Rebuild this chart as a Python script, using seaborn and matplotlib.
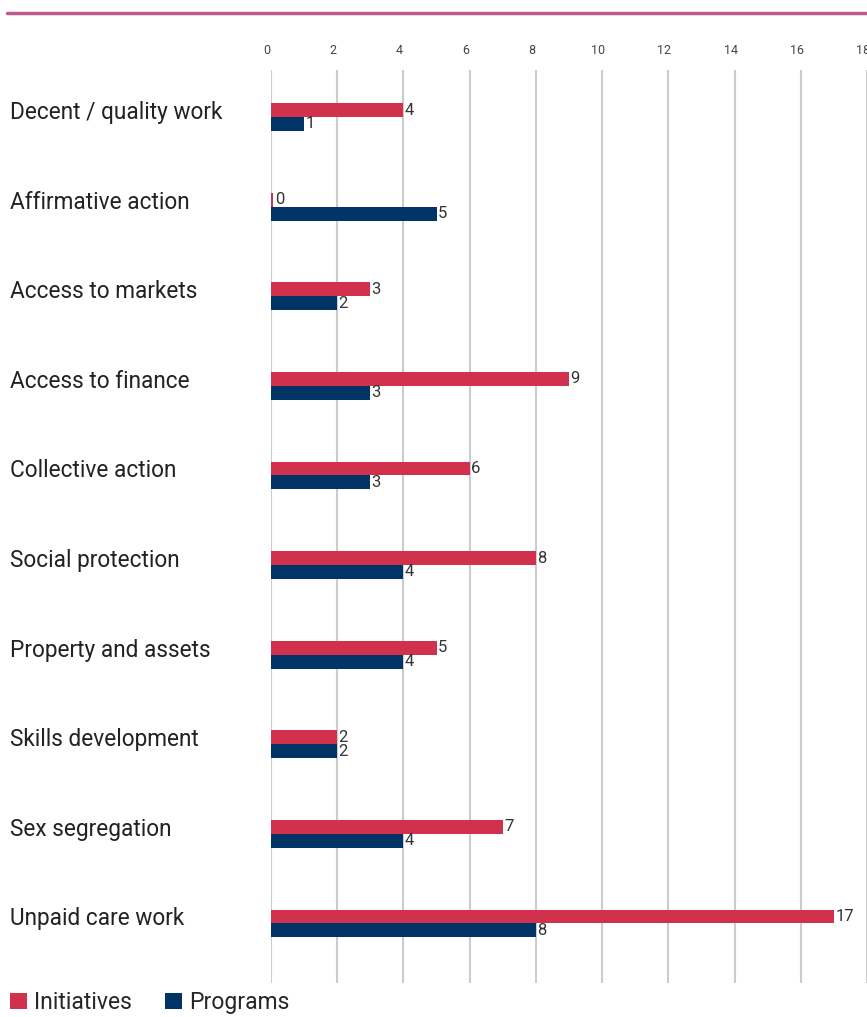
import matplotlib
matplotlib.use("Agg")
import matplotlib.pyplot as plt
import matplotlib.transforms as mtransforms
from matplotlib.lines import Line2D
import numpy as np
import pandas as pd
import seaborn as sns


TOPICS = [
    "Decent / quality work",
    "Affirmative action",
    "Access to markets",
    "Access to finance",
    "Collective action",
    "Social protection",
    "Property and assets",
    "Skills development",
    "Sex segregation",
    "Unpaid care work",
]
INITIATIVES = [4, 0, 3, 9, 6, 8, 5, 2, 7, 17]
PROGRAMS = [1, 5, 2, 3, 3, 4, 4, 2, 4, 8]
SERIES = ["Initiatives", "Programs"]
COLORS = ["#D2314D", "#003466"]
X_TICKS = [0, 2, 4, 6, 8, 10, 12, 14, 16, 18]


def build_frame():
    rows = []
    for name, values in zip(SERIES, [INITIATIVES, PROGRAMS]):
        for topic, v in zip(TOPICS, values):
            # tiny sliver so that zero still shows as in the original
            rows.append({"topic": topic, "series": name, "value": v, "shown": max(v, 0.07)})
    return pd.DataFrame(rows)


def main():
    sns.set_style("white")
    plt.rcParams["font.family"] = ["Roboto", "DejaVu Sans"]

    W, H = 867, 1017
    fig = plt.figure(figsize=(W / 100, H / 100), dpi=100)
    ax_top, ax_bot = 70, 983
    ax = fig.add_axes([271 / W, 1 - ax_bot / H, 1 - 271 / W, (ax_bot - ax_top) / H])

    df = build_frame()
    sns.barplot(
        data=df, y="topic", x="shown", hue="series", order=TOPICS, hue_order=SERIES,
        palette=COLORS, orient="h", width=0.31, errorbar=None, saturation=1,
        linewidth=0, ax=ax, legend=True,
    )

    for cont, values, dy in zip(ax.containers, [INITIATIVES, PROGRAMS], [-0.04, 0.0]):
        texts = ax.bar_label(cont, labels=[str(v) for v in values], padding=1,
                             fontsize=12, color="#333333")
        shift = mtransforms.ScaledTranslation(0, -dy, fig.dpi_scale_trans)
        for t in texts:
            t.set_transform(t.get_transform() + shift)

    ax.set_xlim(0, 18)
    ax.set_ylim(9.665, -0.525)
    ax.set_xticks(X_TICKS)
    ax.xaxis.tick_top()
    ax.tick_params(axis="x", length=0, pad=9, labelsize=9, labelcolor="#444444")
    offset = mtransforms.ScaledTranslation(-0.04, 0, fig.dpi_scale_trans)
    for lbl in ax.get_xticklabels():
        lbl.set_transform(lbl.get_transform() + offset)
    ax.grid(axis="x", color="#CCCCCC", linewidth=1.5)
    ax.set_axisbelow(True)
    ax.set_yticks([])
    ax.set_xlabel("")
    ax.set_ylabel("")
    for s in ax.spines.values():
        s.set_visible(False)

    # category names at left edge of figure
    trans = mtransforms.blended_transform_factory(fig.transFigure, ax.transData)
    nudge = mtransforms.ScaledTranslation(0, -0.02, fig.dpi_scale_trans)
    for i, topic in enumerate(TOPICS):
        ax.text(10 / W, i, topic, transform=trans + nudge, ha="left", va="baseline",
                fontsize=16.3, color="#222222")

    handles, labels = ax.get_legend_handles_labels()
    ax.get_legend().remove()
    fig.legend(handles, labels, loc="lower left", bbox_to_anchor=(10 / W, 3 / H),
               ncol=2, frameon=False, fontsize=16.5, handlelength=0.75, handleheight=0.75,
               handletextpad=0.3, columnspacing=1.45, borderaxespad=0, borderpad=0)

    fig.add_artist(Line2D([7 / W, 1], [1 - 13 / H, 1 - 13 / H], transform=fig.transFigure,
                          color="#C05A8E", linewidth=2.5))

    fig.savefig("out.png", dpi=100)
    plt.close(fig)


if __name__ == "__main__":
    main()
